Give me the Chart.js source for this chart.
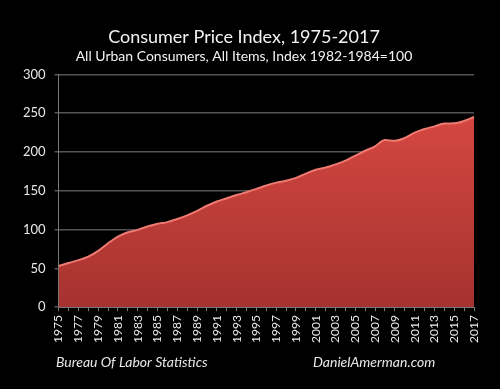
<!DOCTYPE html>
<html>
<head>
<meta charset="utf-8">
<script src="https://cdn.jsdelivr.net/npm/chart.js@4"></script>
<style>
  html, body { margin: 0; padding: 0; background: #000; }
  #wrap { width: 500px; height: 389px; }
</style>
</head>
<body>
<div id="wrap"><canvas id="cpiChart" width="500" height="389"></canvas></div>
<script>
const years = ['1975', '1976', '1977', '1978', '1979', '1980', '1981', '1982', '1983', '1984',
  '1985', '1986', '1987', '1988', '1989', '1990', '1991', '1992', '1993', '1994',
  '1995', '1996', '1997', '1998', '1999', '2000', '2001', '2002', '2003', '2004',
  '2005', '2006', '2007', '2008', '2009', '2010', '2011', '2012', '2013', '2014',
  '2015', '2016', '2017'];
const cpiValues = [53, 56.9, 60.6, 65.2, 72.6, 82.4, 90.9, 96.5, 99.6, 103.9,
  107.6, 109.6, 113.6, 118.3, 124.0, 130.7, 136.2, 140.3, 144.5, 148.2,
  152.4, 156.9, 160.5, 163.0, 166.6, 172.2, 177.1, 179.9, 184.0, 188.9,
  195.3, 201.6, 207.3, 215.3, 214.5, 218.1, 224.9, 229.6, 233.0, 236.7,
  237.0, 240.0, 245.1];
const yTicks = [0, 50, 100, 150, 200, 250, 300];
const sourceText = 'Bureau Of Labor Statistics';
const siteText = 'DanielAmerman.com';

const footerPlugin = {
  id: 'footerText',
  afterDraw(chart) {
    const ctx = chart.ctx;
    ctx.save();
    ctx.fillStyle = '#e8e8e8';
    ctx.font = 'italic 14px Lato';
    ctx.textBaseline = 'middle';
    ctx.textAlign = 'left';
    ctx.fillText(sourceText, 56, 362);
    ctx.fillText(siteText, 313, 362);
    ctx.restore();
  }
};

const bgPlugin = {
  id: 'blackBg',
  beforeDraw(chart) {
    const ctx = chart.ctx;
    ctx.save();
    ctx.fillStyle = '#000';
    ctx.fillRect(0, 0, chart.width, chart.height);
    ctx.restore();
  }
};

function areaGradient(context) {
  const area = context.chart.chartArea;
  if (!area) return '#c8403b';
  const g = context.chart.ctx.createLinearGradient(0, area.top, 0, area.bottom);
  g.addColorStop(0, '#e04c45');
  g.addColorStop(1, '#a5322f');
  return g;
}

new Chart(document.getElementById('cpiChart'), {
  type: 'line',
  data: {
    labels: years,
    datasets: [{
      data: cpiValues,
      fill: 'origin',
      backgroundColor: areaGradient,
      borderColor: '#ee7a72',
      borderWidth: 2,
      pointRadius: 0,
      cubicInterpolationMode: 'monotone'
    }]
  },
  options: {
    responsive: false,
    animation: false,
    layout: { padding: { left: 14, right: 26, top: 0, bottom: 42 } },
    plugins: {
      legend: { display: false },
      tooltip: { enabled: false },
      title: {
        display: true,
        text: 'Consumer Price Index, 1975-2017',
        color: '#f2f2f2',
        font: { family: 'Lato', size: 18, weight: 'normal' },
        padding: { top: 26, bottom: 0 }
      },
      subtitle: {
        display: true,
        text: 'All Urban Consumers, All Items, Index 1982-1984=100',
        color: '#f2f2f2',
        font: { family: 'Lato', size: 14, weight: 'normal' },
        padding: { top: 0, bottom: 10 }
      }
    },
    scales: {
      x: {
        grid: { display: true, drawOnChartArea: false, drawTicks: true, tickLength: 4, color: '#777' },
        border: { color: '#777', width: 1 },
        ticks: {
          color: '#e8e8e8',
          font: { family: 'Lato', size: 12 },
          autoSkip: false,
          maxRotation: 90,
          minRotation: 90,
          padding: 4,
          callback: function(value, index) {
            return index % 2 === 0 ? years[index] : '';
          }
        }
      },
      y: {
        min: 0,
        max: 300,
        afterBuildTicks: function(axis) {
          axis.ticks = yTicks.map(v => ({ value: v }));
        },
        grid: { color: '#555', tickLength: 4, lineWidth: 1.5 },
        border: { color: '#777', width: 1 },
        ticks: {
          color: '#e8e8e8',
          font: { family: 'Lato', size: 13 },
          padding: 9
        }
      }
    }
  },
  plugins: [bgPlugin, footerPlugin]
});
</script>
</body>
</html>
